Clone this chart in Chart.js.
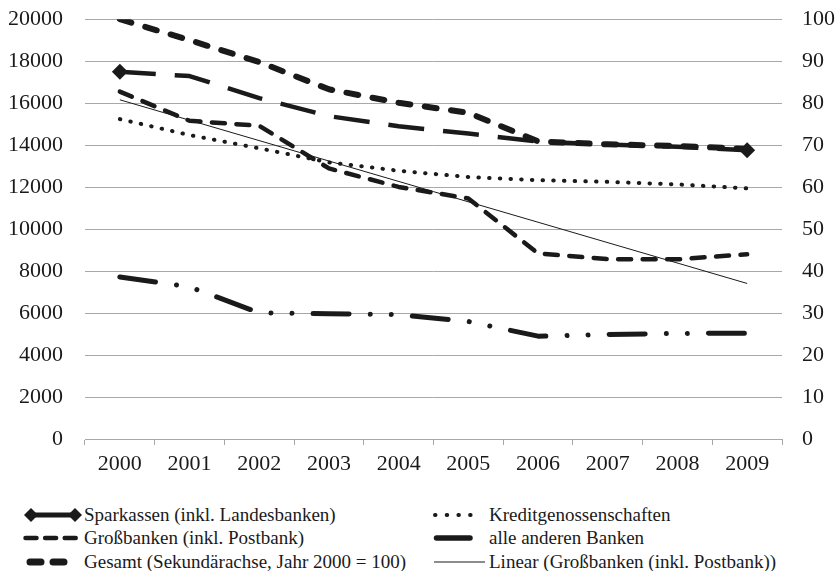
<!DOCTYPE html>
<html>
<head>
<meta charset="utf-8">
<script src="https://cdn.jsdelivr.net/npm/chart.js@4.4.1/dist/chart.umd.min.js"></script>
<style>
  html, body { margin: 0; padding: 0; background: #ffffff; }
  #wrap { position: relative; width: 840px; height: 571px; overflow: hidden; }
  #chartBox { position: absolute; left: 0; top: -16px; width: 840px; height: 496px; }
  .leg { position: absolute; font-family: "Liberation Serif", "Tinos", "DejaVu Serif", serif; font-size: 19px; color: #1a1a1a; white-space: nowrap; line-height: 20px; }
  .leg svg { position: absolute; }
</style>
</head>
<body>
<div id="wrap">
  <div id="chartBox"><canvas id="c" width="840" height="496"></canvas></div>
  <div id="legend"></div>
</div>
<script>
// ---- data ----
const categories = ['2000','2001','2002','2003','2004','2005','2006','2007','2008','2009'];
const sparkassen = [17500, 17290, 16240, 15380, 14900, 14550, 14170, 14030, 13920, 13760];
const kreditgenossenschaften = [15240, 14480, 13850, 13180, 12780, 12480, 12330, 12250, 12130, 11940];
const grossbanken = [16550, 15160, 14920, 12890, 12010, 11460, 8840, 8570, 8560, 8800];
const alleAnderen = [7720, 7250, 6010, 5970, 5930, 5600, 4900, 4980, 5030, 5040];
const gesamt = [100, 95.0, 89.8, 83.3, 80.1, 77.7, 70.9, 70.2, 69.8, 69.1];
const linearTrend = [16160, null, null, null, null, null, null, null, null, 7410];
const leftTicks = [0, 20000, 2000];
const rightTicks = [0, 100, 10];

const legendLabels = [
  'Sparkassen (inkl. Landesbanken)',
  'Kreditgenossenschaften',
  'Großbanken (inkl. Postbank)',
  'alle anderen Banken',
  'Gesamt (Sekundärachse, Jahr 2000 = 100)',
  'Linear (Großbanken (inkl. Postbank))'
];

const INK = '#1a1a1a';
const GRID = '#a8a8a8';
const FONT = '"Liberation Serif", Tinos, "DejaVu Serif", serif';

const n = categories.length;
const endRadius = categories.map((_, i) => (i === 0 || i === n - 1) ? 8 : 0);

new Chart(document.getElementById('c'), {
  type: 'line',
  data: {
    labels: categories,
    datasets: [
      { label: legendLabels[0], data: sparkassen, yAxisID: 'y', borderColor: INK, backgroundColor: INK,
        borderWidth: 4.5, borderDash: [36, 19], borderCapStyle: 'butt', pointStyle: 'rectRot',
        pointRadius: endRadius, pointHoverRadius: endRadius, pointBorderWidth: 0, order: 2 },
      { label: legendLabels[1], data: kreditgenossenschaften, yAxisID: 'y', borderColor: INK,
        borderWidth: 4, borderDash: [0.5, 10.2], borderCapStyle: 'round', pointRadius: 0, order: 3 },
      { label: legendLabels[2], data: grossbanken, yAxisID: 'y', borderColor: INK,
        borderWidth: 4.5, borderDash: [13, 11.5], borderCapStyle: 'round', pointRadius: 0, order: 4 },
      { label: legendLabels[3], data: alleAnderen, yAxisID: 'y', borderColor: INK,
        borderWidth: 5, borderDash: [36, 21.2, 0.01, 21, 0.01, 21.1], borderCapStyle: 'round', pointRadius: 0, order: 5 },
      { label: legendLabels[4], data: gesamt, yAxisID: 'y2', borderColor: INK,
        borderWidth: 6, borderDash: [12, 14.5], borderCapStyle: 'round', pointRadius: 0, order: 1 },
      { label: legendLabels[5], data: linearTrend, yAxisID: 'y', borderColor: INK,
        borderWidth: 1, spanGaps: true, pointRadius: 0, order: 6 }
    ]
  },
  options: {
    responsive: false,
    animation: false,
    events: [],
    layout: { padding: { top: 3, left: 0, right: 0, bottom: 0 } },
    plugins: { legend: { display: false }, tooltip: { enabled: false } },
    elements: { line: { tension: 0, borderJoinStyle: 'round' } },
    scales: {
      x: {
        type: 'category',
        offset: true,
        grid: { display: true, offset: true, drawOnChartArea: false, drawTicks: true, tickLength: 6, color: GRID, lineWidth: 1 },
        border: { display: true, color: GRID, width: 1 },
        ticks: { color: INK, font: { family: FONT, size: 22 }, padding: 6, maxRotation: 0, autoSkip: false },
        afterFit(s) { s.height = 41; }
      },
      y: {
        position: 'left',
        min: leftTicks[0], max: leftTicks[1],
        ticks: { stepSize: leftTicks[2], color: INK, font: { family: FONT, size: 22 }, padding: 22,
                 callback: v => String(v) },
        grid: { color: GRID, lineWidth: 1, drawTicks: false },
        border: { display: false },
        afterFit(s) { s.width = 85; }
      },
      y2: {
        position: 'right',
        min: rightTicks[0], max: rightTicks[1],
        ticks: { stepSize: rightTicks[2], color: INK, font: { family: FONT, size: 22 }, padding: 20,
                 callback: v => String(v) },
        grid: { drawOnChartArea: false, drawTicks: false },
        border: { display: false },
        afterFit(s) { s.width = 58; }
      }
    }
  }
});

// ---- HTML legend ----
const legendEl = document.getElementById('legend');
const rowsY = [515, 538, 562];
function sym(kind) {
  const c = INK;
  switch (kind) {
    case 0: return `<svg width="64" height="20" style="left:-62px;top:0"><line x1="9" y1="10" x2="53" y2="10" stroke="${c}" stroke-width="5"/><polygon points="9,3 16,10 9,17 2,10" fill="${c}"/><polygon points="53,3 60,10 53,17 46,10" fill="${c}"/></svg>`;
    case 1: return `<svg width="56" height="20" style="left:-56px;top:0"><line x1="2" y1="10" x2="48" y2="10" stroke="${c}" stroke-width="4" stroke-linecap="round" stroke-dasharray="0.5 11.2"/></svg>`;
    case 2: return `<svg width="62" height="20" style="left:-62px;top:0"><line x1="3.5" y1="10" x2="59" y2="10" stroke="${c}" stroke-width="4.5" stroke-linecap="round" stroke-dasharray="11 8.6"/></svg>`;
    case 3: return `<svg width="56" height="20" style="left:-56px;top:0"><line x1="3.5" y1="10" x2="37" y2="10" stroke="${c}" stroke-width="5.5" stroke-linecap="round"/></svg>`;
    case 4: return `<svg width="62" height="20" style="left:-60px;top:0"><line x1="6" y1="10" x2="40" y2="10" stroke="${c}" stroke-width="7" stroke-linecap="round" stroke-dasharray="11 12"/></svg>`;
    case 5: return `<svg width="56" height="20" style="left:-56px;top:0"><line x1="1" y1="10" x2="52" y2="10" stroke="${c}" stroke-width="1.2"/></svg>`;
  }
}
legendLabels.forEach((t, i) => {
  const col = i % 2, row = Math.floor(i / 2);
  const left = col === 0 ? 84 : 489;
  const d = document.createElement('div');
  d.className = 'leg';
  d.style.left = left + 'px';
  d.style.top = (rowsY[row] - 10) + 'px';
  d.innerHTML = sym(i) + '<span>' + t + '</span>';
  legendEl.appendChild(d);
});
</script>
</body>
</html>
